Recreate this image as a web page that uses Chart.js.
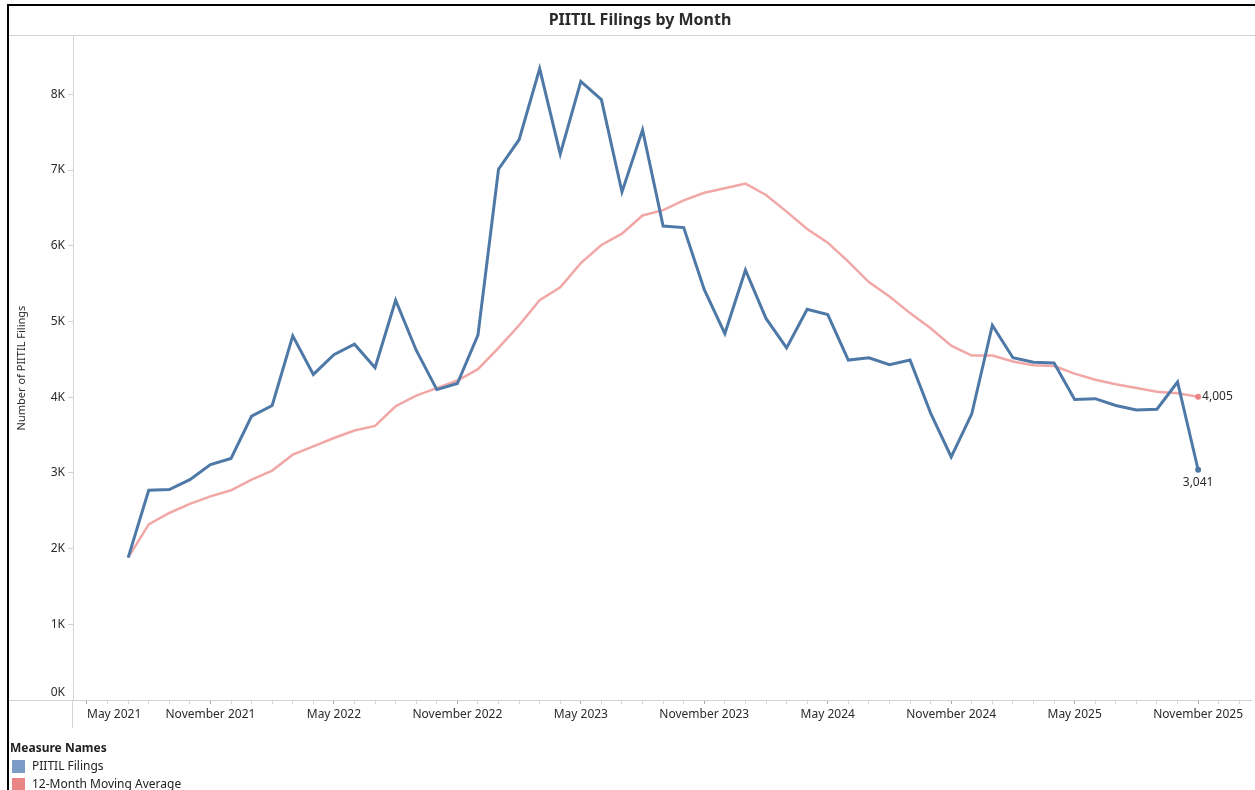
<!DOCTYPE html>
<html>
<head>
<meta charset="utf-8">
<title>PIITIL Filings by Month</title>
<script src="https://cdn.jsdelivr.net/npm/chart.js@4.4.1/dist/chart.umd.min.js"></script>
<style>
    html, body { margin: 0; padding: 0; background: #fff; overflow: hidden; }
    #wrap { position: relative; width: 1255px; height: 790px; }
    #filings { position: absolute; left: 0; top: 0; }
    #frame { position: absolute; left: 7px; top: 4px; right: 0; bottom: 0;
             border-left: 2px solid #000; border-top: 2px solid #000; pointer-events: none; }
    #legend { position: absolute; left: 10px; top: 739px; font-family: 'Noto Sans', sans-serif;
              font-size: 12px; color: #222; line-height: 18px; }
    #legend .head { font-weight: bold; }
    #legend .item { display: flex; align-items: center; }
    #legend .sw { display: inline-block; width: 13px; height: 13px; margin: 0 7px 0 2px; }
</style>
</head>
<body>
<div id="wrap">
    <canvas id="filings" width="1255" height="790"></canvas>
    <div id="frame"></div>
    <div id="legend"></div>
</div>
<script>
'use strict';

// month of each point (YYYY-MM)
var months = [
    '2021-07', '2021-08', '2021-09', '2021-10', '2021-11', '2021-12',
    '2022-01', '2022-02', '2022-03', '2022-04', '2022-05', '2022-06',
    '2022-07', '2022-08', '2022-09', '2022-10', '2022-11', '2022-12',
    '2023-01', '2023-02', '2023-03', '2023-04', '2023-05', '2023-06',
    '2023-07', '2023-08', '2023-09', '2023-10', '2023-11', '2023-12',
    '2024-01', '2024-02', '2024-03', '2024-04', '2024-05', '2024-06',
    '2024-07', '2024-08', '2024-09', '2024-10', '2024-11', '2024-12',
    '2025-01', '2025-02', '2025-03', '2025-04', '2025-05', '2025-06',
    '2025-07', '2025-08', '2025-09', '2025-10', '2025-11'
];

var filings = [
    1880, 2770, 2780, 2910, 3110, 3190,
    3750, 3890, 4810, 4300, 4560, 4700,
    4390, 5280, 4620, 4100, 4180, 4820,
    7010, 7400, 8340, 7210, 8170, 7930,
    6710, 7530, 6260, 6240, 5420, 4840,
    5680, 5040, 4650, 5160, 5090, 4490,
    4520, 4430, 4490, 3790, 3210, 3780,
    4950, 4520, 4460, 4450, 3970, 3980,
    3890, 3830, 3840, 4200, 3041
];

var movingAvg = [
    1880, 2320, 2470, 2590, 2690, 2770,
    2910, 3030, 3240, 3350, 3460, 3560,
    3620, 3880, 4020, 4120, 4220, 4370,
    4650, 4950, 5280, 5450, 5770, 6010,
    6160, 6400, 6470, 6600, 6700, 6760,
    6820, 6670, 6450, 6220, 6040, 5790,
    5520, 5330, 5110, 4910, 4680, 4550,
    4550, 4470, 4420, 4410, 4310, 4230,
    4170, 4120, 4070, 4050, 4005
];

// labelled x ticks, one every 6 months starting May 2021
var xTickLabels = [
    'May 2021', 'November 2021', 'May 2022', 'November 2022', 'May 2023',
    'November 2023', 'May 2024', 'November 2024', 'May 2025', 'November 2025'
];
var yTicks = [0, 1000, 2000, 3000, 4000, 5000, 6000, 7000, 8000];

var seriesNames = ['PIITIL Filings', '12-Month Moving Average'];
var lineColors = ['#4e79a7', 'rgba(236, 130, 130, 0.7)'];
var legendColors = ['#7b9cc6', '#e98585'];

var FONT = "'Noto Sans', sans-serif";
var TEXT = '#2b2b2b';

// months since May 2021
function monthIndex(s) {
    var p = s.split('-');
    return (parseInt(p[0], 10) - 2021) * 12 + parseInt(p[1], 10) - 5;
}

function toPoints(values) {
    return values.map(function (v, i) {
        return { x: monthIndex(months[i]), y: v };
    });
}

function lastOnly(ctx) {
    return ctx.dataIndex === ctx.dataset.data.length - 1 ? 3 : 0;
}

var paneLines = {
    id: 'paneLines',
    afterDraw: function (chart) {
        var c = chart.ctx, a = chart.chartArea;
        c.save();
        c.strokeStyle = '#d3d3d3';
        c.lineWidth = 1;
        c.beginPath();
        c.moveTo(8, a.top - 0.5); c.lineTo(chart.width, a.top - 0.5);
        c.moveTo(8, a.bottom + 0.5); c.lineTo(a.left, a.bottom + 0.5);
        c.moveTo(a.left - 0.5, a.bottom); c.lineTo(a.left - 0.5, a.bottom + 28);
        c.stroke();
        c.font = 'bold 16px ' + FONT;
        c.fillStyle = TEXT;
        c.textAlign = 'center';
        c.textBaseline = 'middle';
        c.fillText('PIITIL Filings by Month', 640, 20);
        c.restore();
    }
};

var endLabels = {
    id: 'endLabels',
    afterDatasetsDraw: function (chart) {
        var c = chart.ctx;
        c.save();
        c.font = '12px ' + FONT;
        c.fillStyle = TEXT;
        var m0 = chart.getDatasetMeta(0).data;
        var p0 = m0[m0.length - 1];
        c.textAlign = 'center';
        c.textBaseline = 'middle';
        c.fillText(filings[filings.length - 1].toLocaleString('en-US'), p0.x, p0.y + 13);
        var m1 = chart.getDatasetMeta(1).data;
        var p1 = m1[m1.length - 1];
        c.textAlign = 'left';
        c.fillText(movingAvg[movingAvg.length - 1].toLocaleString('en-US'), p1.x + 4, p1.y);
        c.restore();
    }
};

var chart = new Chart(document.getElementById('filings'), {
    type: 'line',
    data: {
        datasets: [
            {
                label: seriesNames[0],
                data: toPoints(filings),
                borderColor: lineColors[0],
                backgroundColor: lineColors[0],
                borderWidth: 3,
                tension: 0,
                pointRadius: lastOnly,
                pointBorderWidth: 0,
                order: 1
            },
            {
                label: seriesNames[1],
                data: toPoints(movingAvg),
                borderColor: lineColors[1],
                backgroundColor: '#ec8585',
                borderWidth: 2.5,
                tension: 0,
                pointRadius: lastOnly,
                pointBorderWidth: 0,
                order: 2
            }
        ]
    },
    options: {
        responsive: false,
        animation: false,
        devicePixelRatio: 1,
        layout: { padding: { top: 36, left: 0, right: 2, bottom: 62 } },
        plugins: {
            legend: { display: false },
            title: { display: false },
            tooltip: { enabled: false }
        },
        scales: {
            x: {
                type: 'linear',
                min: -0.68,
                max: 56.57,
                afterFit: function (s) { s.height = 28; },
                afterBuildTicks: function (s) {
                    // one tick per month, May 2021 onwards
                    var t = [];
                    for (var i = 0; i <= Math.floor(s.max); i++) t.push({ value: i });
                    s.ticks = t;
                },
                ticks: {
                    autoSkip: false,
                    maxRotation: 0,
                    align: 'inner',
                    padding: 3,
                    color: TEXT,
                    font: { family: FONT, size: 12 },
                    callback: function (v) {
                        return v % 6 === 0 ? xTickLabels[v / 6] : '';
                    }
                },
                grid: {
                    drawOnChartArea: false,
                    tickLength: 4,
                    tickColor: function (ctx) {
                        return ctx.tick && ctx.tick.value % 6 === 0 ? '#a8a8a8' : '#d6d6d6';
                    }
                },
                border: { color: '#d3d3d3' }
            },
            y: {
                min: 0,
                max: 8770,
                afterFit: function (s) { s.width = 73; },
                afterBuildTicks: function (s) {
                    s.ticks = yTicks.map(function (v) { return { value: v }; });
                },
                ticks: {
                    autoSkip: false,
                    padding: 3,
                    color: TEXT,
                    font: { family: FONT, size: 12 },
                    callback: function (v) {
                        // lift the 0K label off the axis line
                        return v === 0 ? ['0K', ''] : (v / 1000) + 'K';
                    }
                },
                grid: { drawOnChartArea: false, tickLength: 5, tickColor: '#d3d3d3' },
                border: { color: '#d3d3d3' },
                title: {
                    display: true,
                    text: 'Number of PIITIL Filings',
                    color: TEXT,
                    font: { family: FONT, size: 11 },
                    padding: { top: 15, bottom: 0 }
                }
            }
        }
    },
    plugins: [paneLines, endLabels]
});

var legend = document.getElementById('legend');
var html = '<div class="head">Measure Names</div>';
seriesNames.forEach(function (name, i) {
    html += '<div class="item"><span class="sw" style="background:' + legendColors[i] + '"></span>' + name + '</div>';
});
legend.innerHTML = html;
</script>
</body>
</html>
